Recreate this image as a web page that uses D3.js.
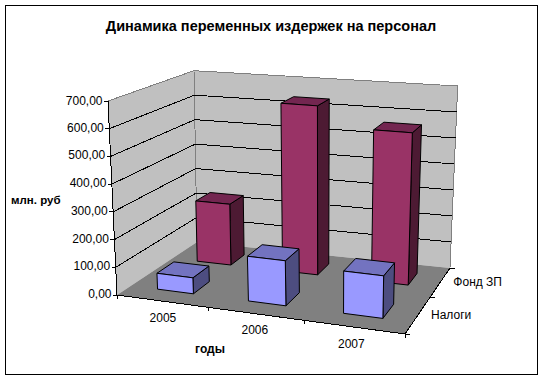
<!DOCTYPE html>
<html><head><meta charset="utf-8">
<script src="https://cdn.jsdelivr.net/npm/d3@7/dist/d3.min.js"></script>
<style>html,body{margin:0;padding:0;background:#fff}svg{display:block}text{font-family:"Liberation Sans",Arial,sans-serif;fill:#000}</style>
</head><body><svg id="c" width="543" height="379"></svg>
<script>
const years = ["2005","2006","2007"];
const seriesNames = ["Налоги","Фонд ЗП"];
const nalogi = [58,160,148];
const fond = [235,640,565];
const valueTicks = [0,100,200,300,400,500,600,700];
const titleText = "Динамика переменных издержек на персонал";
const yTitle = "млн. руб", xTitle = "годы";

// corners of the 3D box on screen
const floorQ = {fl:[117,295],fr:[405,334],br:[450,268],bl:[197,242]};
const topQ   = {fl:[108,101],fr:[410.6,127],br:[457.7,86],bl:[194,70.7]};
const depthK = 1.25; // foreshortening toward the back

const lerp=(a,b,t)=>[a[0]+(b[0]-a[0])*t,a[1]+(b[1]-a[1])*t];
function quadMap(q){ // mean of a projective map and a bilinear map with depth foreshortening
  const [x0,y0]=q.fl,[x1,y1]=q.fr,[x2,y2]=q.br,[x3,y3]=q.bl;
  const dx1=x1-x2,dx2=x3-x2,sx=x0-x1+x2-x3,dy1=y1-y2,dy2=y3-y2,sy=y0-y1+y2-y3;
  const den=dx1*dy2-dx2*dy1;
  const g=(sx*dy2-dx2*sy)/den,h=(dx1*sy-sx*dy1)/den;
  const a=x1-x0+g*x1,b=x3-x0+h*x3,d=y1-y0+g*y1,e=y3-y0+h*y3;
  return (u,v)=>{
    const n=g*u+h*v+1, A=[(a*u+b*v+x0)/n,(d*u+e*v+y0)/n];
    const w=depthK*v/(1+(depthK-1)*v), B=lerp(lerp(q.fl,q.fr,u),lerp(q.bl,q.br,u),w);
    return lerp(A,B,0.5);
  };
}
const floorMap=quadMap(floorQ), topMap=quadMap(topQ);
const val=d3.scaleLinear().domain([0,700]).range([0,1]);
const P=(u,v,value)=>lerp(floorMap(u,v),topMap(u,v),val(value));

const xBand=d3.scaleBand().domain(years).range([0,1]).paddingInner(0.6).paddingOuter(0.3);
const zBand=d3.scaleBand().domain(seriesNames).range([0,1]).paddingInner(0.6).paddingOuter(0.3);

const svg=d3.select("#c");
svg.append("rect").attr("x",5.5).attr("y",5.5).attr("width",532).attr("height",369).attr("fill","#fff").attr("stroke","#000").attr("stroke-width",1).attr("shape-rendering","crispEdges");

const line=d3.line();
const poly=(pts,fill,stroke)=>svg.append("path").attr("d",line(pts)+"Z").attr("fill",fill).attr("stroke",stroke||"none").attr("stroke-width",1).attr("stroke-linejoin","round");
const seg=(a,b,c)=>svg.append("path").attr("d",line([a,b])).attr("stroke",c||"#000").attr("fill","none").attr("shape-rendering","crispEdges");

// walls and floor
poly([P(0,0,0),P(0,1,0),P(0,1,700),P(0,0,700)],"#c0c0c0");
poly([P(0,1,0),P(1,1,0),P(1,1,700),P(0,1,700)],"#c0c0c0");
poly([P(0,0,0),P(1,0,0),P(1,1,0),P(0,1,0)],"#808080");
// wall edges
seg(P(0,0,700),P(0,1,700),"#808080");
seg(P(0,1,700),P(1,1,700),"#808080");
seg(P(0,1,0),P(0,1,700),"#808080");
seg(P(1,1,0),P(1,1,700),"#808080");
// gridlines
valueTicks.filter(d=>d>0&&d<700).forEach(d=>{
  seg(P(0,0,d),P(0,1,d)); seg(P(0,1,d),P(1,1,d));
});
// axes
seg(P(0,0,0),P(0,0,700));
seg(P(0,0,0),P(1,0,0));
seg(P(1,0,0),P(1,1,0));
valueTicks.forEach(d=>{
  const p=P(0,0,d);
  seg([p[0]-4,p[1]],p);
  svg.append("text").attr("x",p[0]-5.5).attr("y",p[1]+(d===700?4:3)).attr("text-anchor","end").attr("font-size",12).text(d3.format(".2f")(d).replace(".",","));
});
[0,1/3,2/3,1].forEach(u=>{const p=P(u,0,0);seg(p,[p[0],p[1]+4]);});
[0,.5,1].forEach(v=>{const p=P(1,v,0);seg(p,[p[0]+5,p[1]]);});

// bars
const colours={"Налоги":["#9999ff","#7373c0","#4d4d80"],"Фонд ЗП":["#993366","#732650","#4d1a33"]};
const seriesVals={"Налоги":nalogi,"Фонд ЗП":fond};
seriesNames.slice().reverse().forEach(s=>{
  years.forEach((y,i)=>{
    const u0=xBand(y),u1=u0+xBand.bandwidth(),v0=zBand(s),v1=v0+zBand.bandwidth(),h=seriesVals[s][i],c=colours[s];
    poly([P(u1,v0,0),P(u1,v1,0),P(u1,v1,h),P(u1,v0,h)],c[2],"#000");
    poly([P(u0,v0,h),P(u1,v0,h),P(u1,v1,h),P(u0,v1,h)],c[1],"#000");
    poly([P(u0,v0,0),P(u1,v0,0),P(u1,v0,h),P(u0,v0,h)],c[0],"#000");
  });
});

// category and series labels
years.forEach(y=>{
  const u=xBand(y)+xBand.bandwidth()/2,p=P(u,0,0);
  svg.append("text").attr("x",p[0]+1.5-5*u).attr("y",p[1]+20.5).attr("text-anchor","middle").attr("font-size",12).text(y);
});
seriesNames.forEach(s=>{
  const v=zBand(s)+zBand.bandwidth()/2,p=P(1,v,0);
  svg.append("text").attr("x",p[0]+13).attr("y",p[1]+4).attr("font-size",12).text(s);
});
svg.append("text").attr("x",271).attr("y",30.5).attr("text-anchor","middle").attr("font-size",14.5).attr("font-weight","bold").text(titleText);
svg.append("text").attr("x",11).attr("y",204).attr("font-size",11.5).attr("font-weight","bold").text(yTitle);
svg.append("text").attr("x",210).attr("y",353).attr("text-anchor","middle").attr("font-size",12).attr("font-weight","bold").text(xTitle);
</script></body></html>
